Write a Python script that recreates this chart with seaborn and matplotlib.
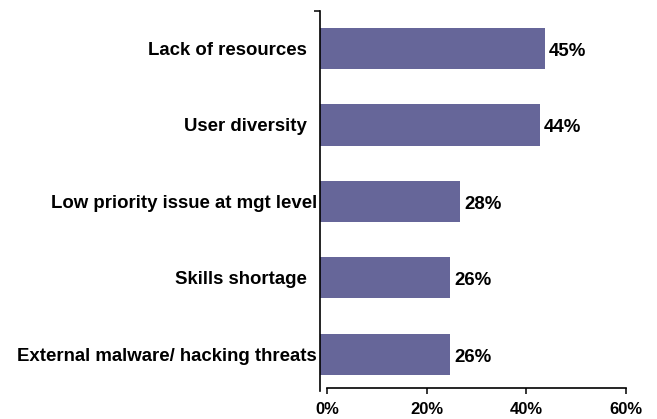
import matplotlib
matplotlib.use("Agg")
import matplotlib.pyplot as plt
import seaborn as sns
import pandas as pd

# Survey results: barriers to security, share of respondents (%)
categories = [
    "Lack of resources  ",
    "User diversity  ",
    "Low priority issue at mgt level",
    "Skills shortage  ",
    "External malware/ hacking threats",
]
values = [45, 44, 28, 26, 26]
value_labels = ["45%", "44%", "28%", "26%", "26%"]
x_ticks = [0, 20, 40, 60]
x_tick_labels = ["0%", "20%", "40%", "60%"]

BAR_COLOR = "#666699"

sns.set_theme(style="white")
plt.rcParams["font.family"] = ["Liberation Sans", "DejaVu Sans"]
plt.rcParams["font.weight"] = "bold"

W, H = 657, 419
fig = plt.figure(figsize=(W / 100, H / 100), dpi=100)

# main plotting area: bars start at the vertical axis line
ax = fig.add_axes([320 / W, (H - 391) / H, 300 / W, 380 / H])
df = pd.DataFrame({"category": categories, "value": values})
sns.barplot(data=df, y="category", x="value", orient="h", color=BAR_COLOR,
            width=0.54, linewidth=0, saturation=1, ax=ax)
ax.set_xlim(0, 60)
ax.set_ylim(4.48, -0.49)
ax.set_xlabel("")
ax.set_ylabel("")
ax.set_xticks([])

for s in ["top", "right", "bottom"]:
    ax.spines[s].set_visible(False)
ax.spines["left"].set_color("black")
ax.spines["left"].set_linewidth(1.2)

ax.tick_params(axis="y", which="major", length=0, pad=2, labelsize=13.4)
for lbl in ax.get_yticklabels():
    lbl.set_fontweight("bold")
    lbl.set_color("black")
ax.set_yticks([-0.49], minor=True)
ax.tick_params(axis="y", which="minor", left=True, length=4, width=1.1,
               color="black", direction="out")

anns = ax.bar_label(ax.containers[0], labels=value_labels, padding=3,
                    fontsize=13.4, fontweight="bold", color="black")
for a in anns:
    a.xyann = (3, -2)

# separate value scale drawn just below the bars
sx = fig.add_axes([327 / W, (H - 388.3) / H, 299 / W, 0.0001])
sx.set_xlim(0, 60)
sx.set_xticks(x_ticks)
sx.set_xticklabels(x_tick_labels, fontsize=12, fontweight="bold", color="black")
sx.set_yticks([])
sx.patch.set_alpha(0)
for s in ["top", "right", "left"]:
    sx.spines[s].set_visible(False)
sx.spines["bottom"].set_color("black")
sx.spines["bottom"].set_linewidth(1.2)
sx.tick_params(axis="x", bottom=True, length=4, width=1.1, color="black",
               direction="out", pad=6)

fig.savefig("out.png", dpi=100)
